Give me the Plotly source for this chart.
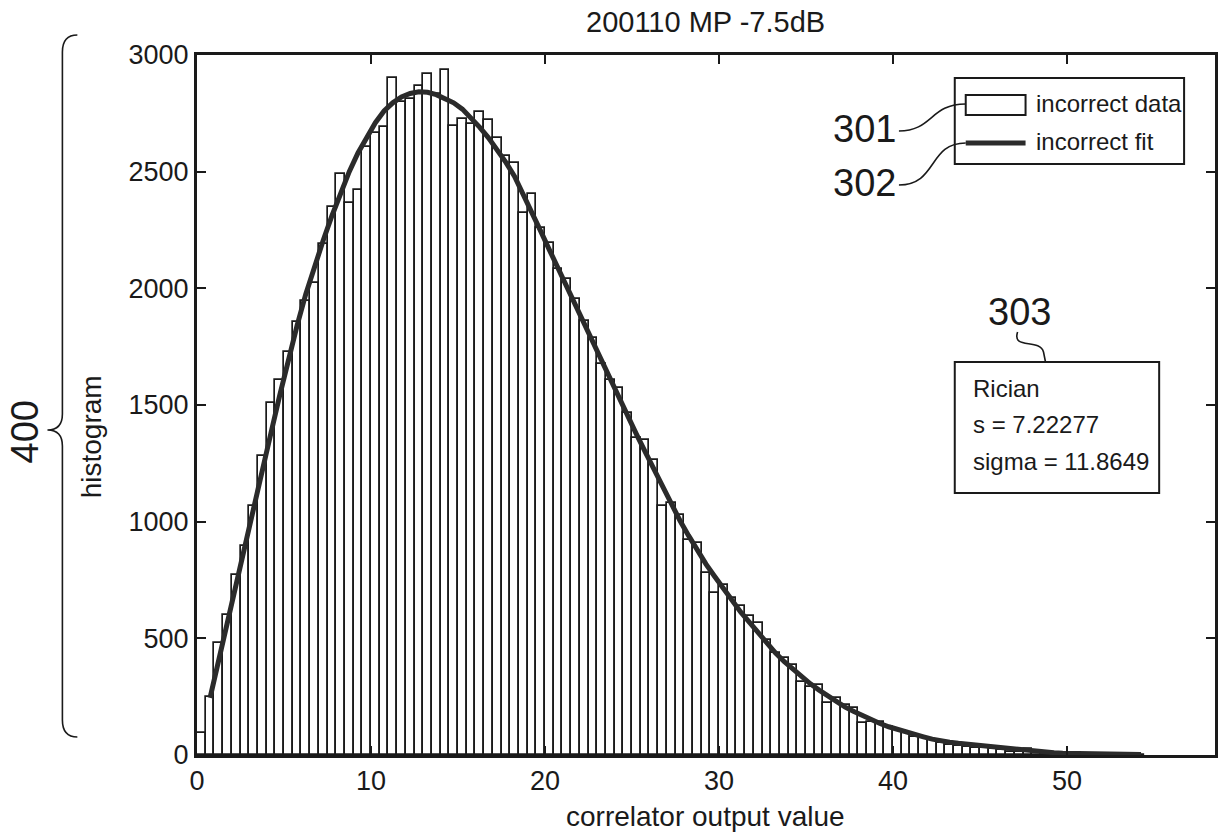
import plotly.graph_objects as go

# ---------------- data ----------------
bin_width = 0.5
counts = [95, 250, 479, 601, 773, 894, 1066, 1280, 1509, 1609,
          1728, 1855, 1946, 2021, 2189, 2350, 2489, 2365, 2422, 2604,
          2665, 2690, 2901, 2800, 2810, 2868, 2918, 2833, 2937, 2694,
          2725, 2705, 2754, 2721, 2644, 2568, 2536, 2325, 2403, 2260,
          2196, 2082, 2041, 1953, 1860, 1788, 1674, 1609, 1574, 1466,
          1359, 1352, 1266, 1066, 1081, 1030, 923, 908, 780, 694,
          730, 672, 637, 594, 565, 494, 436, 415, 386, 315,
          293, 300, 222, 243, 215, 200, 136, 143, 140, 122,
          107, 93, 79, 72, 64, 50, 44, 40, 36, 32,
          28, 24, 20, 15, 12, 26, 14, 8, 6, 5,
          4, 4, 3, 3, 2, 2, 2, 1, 1]
bin_centers = [bin_width * (i + 0.5) for i in range(len(counts))]

fit_y = [245, 410, 575, 740, 905, 1065, 1225, 1380, 1540, 1695,
         1840, 1975, 2095, 2205, 2310, 2410, 2500, 2580, 2650, 2710,
         2760, 2795, 2820, 2835, 2842, 2840, 2830, 2815, 2795, 2768,
         2732, 2690, 2645, 2595, 2540, 2480, 2405, 2325, 2245, 2165,
         2085, 2005, 1925, 1845, 1768, 1690, 1610, 1535, 1455, 1375,
         1300, 1225, 1150, 1075, 1005, 940, 878, 818, 765, 712,
         662, 612, 568, 522, 478, 437, 400, 366, 335, 305,
         278, 252, 227, 205, 186, 167, 150, 135, 121, 109,
         98, 88, 78, 68, 60, 55, 50, 46, 42, 38,
         34, 30, 26, 22, 18, 15, 12, 10, 8, 7,
         6, 5, 4, 4, 3, 3, 2, 2]
fit_x = [0.75 + bin_width * i for i in range(len(fit_y))]

x_ticks = [0, 10, 20, 30, 40, 50]
y_ticks = [0, 500, 1000, 1500, 2000, 2500, 3000]

title_text = "200110 MP -7.5dB"
x_title = "correlator output value"
y_title = "histogram"
legend_labels = ["incorrect data", "incorrect fit"]
info_lines = ["Rician", "s = 7.22277", "sigma = 11.8649"]
ref_labels = ["301", "302", "303", "400"]

# ---------------- layout helpers ----------------
W, H = 1223, 840
L, R, T, B = 197, 5, 55, 85
PW, PH = W - L - R, H - T - B

def xp(px):
    return (px - L) / PW

def yp(py):
    return (H - B - py) / PH

FONT = "Liberation Sans, Arial, Helvetica, sans-serif"
INK = "#1a1a1a"

fig = go.Figure()
fig.add_trace(go.Bar(
    x=bin_centers, y=counts, width=bin_width,
    marker=dict(color="white", line=dict(color=INK, width=1.7)),
    name=legend_labels[0], showlegend=False,
))
fig.add_trace(go.Scatter(
    x=fit_x, y=fit_y, mode="lines",
    line=dict(color="#2b2b2b", width=5),
    name=legend_labels[1], showlegend=False,
))

shapes = []
annotations = []

# legend box
shapes.append(dict(type="rect", xref="paper", yref="paper",
                   x0=xp(957), x1=xp(1187), y0=yp(164), y1=yp(78),
                   line=dict(color=INK, width=2), fillcolor="white", layer="above"))
shapes.append(dict(type="rect", xref="paper", yref="paper",
                   x0=xp(968), x1=xp(1028), y0=yp(115), y1=yp(95),
                   line=dict(color=INK, width=2), fillcolor="white", layer="above"))
shapes.append(dict(type="line", xref="paper", yref="paper",
                   x0=xp(968), x1=xp(1028), y0=yp(143), y1=yp(143),
                   line=dict(color="#2b2b2b", width=5), layer="above"))
for txt, py in zip(legend_labels, [104, 141]):
    annotations.append(dict(text=txt, xref="paper", yref="paper",
                            x=xp(1036), y=yp(py), xanchor="left", yanchor="middle",
                            showarrow=False, font=dict(family=FONT, size=24, color=INK)))

# info box
shapes.append(dict(type="rect", xref="paper", yref="paper",
                   x0=xp(957), x1=xp(1162), y0=yp(493), y1=yp(362),
                   line=dict(color=INK, width=2), fillcolor="white", layer="above"))
for txt, py in zip(info_lines, [389, 424, 461]):
    annotations.append(dict(text=txt, xref="paper", yref="paper",
                            x=xp(973), y=yp(py), xanchor="left", yanchor="middle",
                            showarrow=False, font=dict(family=FONT, size=24, color=INK)))

# reference numerals
for txt, px, py in [(ref_labels[0], 866, 129), (ref_labels[1], 866, 183),
                    (ref_labels[2], 1022, 312)]:
    annotations.append(dict(text=txt, xref="paper", yref="paper",
                            x=xp(px), y=yp(py), xanchor="center", yanchor="middle",
                            showarrow=False, font=dict(family=FONT, size=38, color=INK)))
annotations.append(dict(text=ref_labels[3], xref="paper", yref="paper",
                        x=xp(24), y=yp(432), xanchor="center", yanchor="middle",
                        textangle=-90, showarrow=False,
                        font=dict(family=FONT, size=38, color=INK)))

def path(points_cmds):
    out = []
    for cmd, pts in points_cmds:
        coords = " ".join(f"{xp(a):.5f},{yp(b):.5f}" for a, b in pts)
        out.append(f"{cmd} {coords}")
    return " ".join(out)

leader_style = dict(type="path", xref="paper", yref="paper",
                    line=dict(color=INK, width=1.6), layer="above")
shapes.append(dict(leader_style, path=path([("M", [(901, 131)]),
                                            ("C", [(935, 131), (932, 104), (968, 104)])])))
shapes.append(dict(leader_style, path=path([("M", [(901, 185)]),
                                            ("C", [(940, 185), (930, 143), (968, 143)])])))
shapes.append(dict(leader_style, path=path([("M", [(1020, 332)]),
                                            ("C", [(1014, 350), (1042, 338), (1046, 352)]),
                                            ("L", [(1048, 362)])])))
# curly brace for 400
shapes.append(dict(leader_style, path=path([
    ("M", [(77, 35)]),
    ("Q", [(62, 35), (62, 52)]),
    ("L", [(62, 414)]),
    ("Q", [(62, 430), (47, 430)]),
    ("Q", [(62, 430), (62, 446)]),
    ("L", [(62, 720)]),
    ("Q", [(62, 737), (77, 737)]),
])))

# titles
annotations.append(dict(text=title_text, xref="paper", yref="paper",
                        x=xp(707), y=yp(22), xanchor="center", yanchor="middle",
                        showarrow=False, font=dict(family=FONT, size=29, color=INK)))
annotations.append(dict(text=x_title, xref="paper", yref="paper",
                        x=xp(707), y=yp(816), xanchor="center", yanchor="middle",
                        showarrow=False, font=dict(family=FONT, size=28, color=INK)))
annotations.append(dict(text=y_title, xref="paper", yref="paper",
                        x=xp(91), y=yp(437), xanchor="center", yanchor="middle",
                        textangle=-90, showarrow=False,
                        font=dict(family=FONT, size=28, color=INK)))

fig.update_layout(
    width=W, height=H,
    margin=dict(l=L, r=R, t=T, b=B, pad=0),
    paper_bgcolor="white", plot_bgcolor="white",
    bargap=0, showlegend=False,
    shapes=shapes, annotations=annotations,
    font=dict(family=FONT, color=INK),
)
fig.update_xaxes(range=[0, 58.5], tickvals=x_ticks, ticktext=[str(v) for v in x_ticks],
                 ticks="inside", ticklen=9, tickwidth=1.5, tickcolor=INK,
                 showline=True, linecolor=INK, linewidth=3, mirror="ticks",
                 showgrid=False, zeroline=False,
                 tickfont=dict(family=FONT, size=27, color=INK))
fig.update_yaxes(range=[0, 3000], tickvals=y_ticks, ticktext=[str(v) for v in y_ticks],
                 ticks="inside", ticklen=9, tickwidth=1.5, tickcolor=INK,
                 showline=True, linecolor=INK, linewidth=3, mirror="ticks",
                 showgrid=False, zeroline=False,
                 tickfont=dict(family=FONT, size=27, color=INK))

fig.write_html("out.html")
